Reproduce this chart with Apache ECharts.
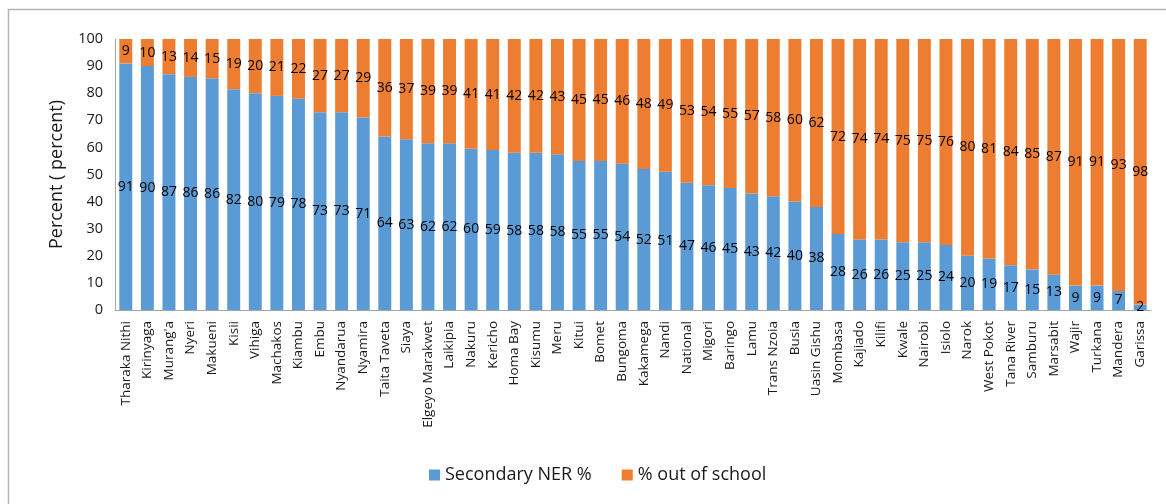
<!DOCTYPE html>
<html>
<head>
<meta charset="utf-8">
<title>Secondary NER by county</title>
<script src="https://cdn.jsdelivr.net/npm/echarts@6/dist/echarts.min.js"></script>
<style>
  html, body { margin: 0; padding: 0; background: #fff; }
  #chart { width: 1166px; height: 504px; }
</style>
</head>
<body>
<div id="chart"></div>
<script>
// counties, sorted by enrolment
const counties = ['Tharaka Nithi', 'Kirinyaga', "Murang'a", 'Nyeri', 'Makueni', 'Kisii', 'Vihiga',
  'Machakos', 'Kiambu', 'Embu', 'Nyandarua', 'Nyamira', 'Taita Taveta', 'Siaya', 'Elgeyo Marakwet',
  'Laikipia', 'Nakuru', 'Kericho', 'Homa Bay', 'Kisumu', 'Meru', 'Kitui', 'Bomet', 'Bungoma',
  'Kakamega', 'Nandi', 'National', 'Migori', 'Baringo', 'Lamu', 'Trans Nzoia', 'Busia',
  'Uasin Gishu', 'Mombasa', 'Kajiado', 'Kilifi', 'Kwale', 'Nairobi', 'Isiolo', 'Narok',
  'West Pokot', 'Tana River', 'Samburu', 'Marsabit', 'Wajir', 'Turkana', 'Mandera', 'Garissa']

// Secondary NER %
const nerValues = [91, 90, 87, 86, 85.5, 81.5, 80, 79, 78, 73, 73, 71, 64, 63, 61.5, 61.5, 59.5, 59,
  58, 58, 57.5, 55, 55, 54, 52, 51, 47, 46, 45, 43, 42, 40, 38, 28, 26, 26, 25, 25, 24, 20, 19,
  16.5, 15, 13, 9, 9, 7, 2]

// % out of school
const outValues = [9, 10, 13, 14, 14.5, 18.5, 20, 21, 22, 27, 27, 29, 36, 37, 38.5, 38.5, 40.5, 41,
  42, 42, 42.5, 45, 45, 46, 48, 49, 53, 54, 55, 57, 58, 60, 62, 72, 74, 74, 75, 75, 76, 80, 81,
  83.5, 85, 87, 91, 91, 93, 98]

const yTicks = [0, 100, 10]

const FONT = '"Open Sans", sans-serif'

const barLabel = {
  show: true,
  position: 'inside',
  color: '#000',
  fontFamily: FONT,
  fontSize: 14,
  formatter: p => Math.round(p.value)
}

const option = {
  animation: false,
  textStyle: { fontFamily: FONT },
  graphic: [{
    type: 'rect',
    shape: { x: 8.5, y: 9.5, width: 1300, height: 600 },
    style: { fill: 'none', stroke: '#b4b4b4', lineWidth: 1.5 },
    silent: true
  }],
  grid: {
    left: 115,
    right: 15,
    top: 39,
    bottom: 194
  },
  legend: {
    left: 424,
    top: 461,
    itemWidth: 11,
    itemHeight: 11,
    itemGap: 30,
    icon: 'rect',
    textStyle: { fontSize: 18, color: '#1a1a1a', fontFamily: FONT },
    data: ['Secondary NER %', '% out of school']
  },
  xAxis: {
    type: 'category',
    data: counties,
    axisLine: { lineStyle: { color: '#a6a6a6' } },
    axisTick: { show: false },
    axisLabel: {
      rotate: 90,
      interval: 0,
      margin: 11,
      fontSize: 13.5,
      color: '#1a1a1a',
      fontFamily: FONT
    }
  },
  yAxis: {
    type: 'value',
    min: yTicks[0],
    max: yTicks[1],
    interval: yTicks[2],
    name: 'Percent ( percent)',
    nameLocation: 'middle',
    nameGap: 49,
    nameTextStyle: { fontSize: 18, color: '#1a1a1a', fontFamily: FONT },
    axisLine: { show: true, lineStyle: { color: '#a6a6a6' } },
    axisTick: { show: false },
    splitLine: { show: false },
    axisLabel: { fontSize: 14.5, color: '#1a1a1a', margin: 12, fontFamily: FONT }
  },
  series: [
    {
      name: 'Secondary NER %',
      type: 'bar',
      stack: 'total',
      barCategoryGap: '40%',
      itemStyle: { color: '#5B9BD5' },
      label: barLabel,
      data: nerValues
    },
    {
      name: '% out of school',
      type: 'bar',
      stack: 'total',
      barCategoryGap: '40%',
      itemStyle: { color: '#ED7D31' },
      label: barLabel,
      data: outValues
    }
  ]
}

const myChart = echarts.init(document.getElementById('chart'))
myChart.setOption(option)
</script>
</body>
</html>
